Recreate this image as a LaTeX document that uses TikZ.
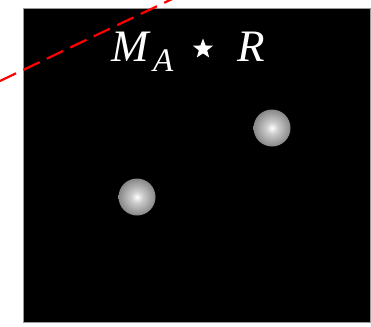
\documentclass[tikz,border=0pt]{standalone}
\usepackage{fontspec}
\setmainfont{Liberation Serif}
\usetikzlibrary{shapes.geometric}
\pgfdeclareradialshading{ballshade}{\pgfpoint{0bp}{0bp}}{color(0bp)=(white); color(8bp)=(black!20); color(30bp)=(black!55); color(50bp)=(black!74)}
\begin{document}
\begin{tikzpicture}[x=1pt,y=-1pt,
  ball/.style={circle,inner sep=0pt,minimum size=37pt,shading=ballshade},
  lbl/.style={text=white,inner sep=0pt,font=\itshape}]
\useasboundingbox (0,0) rectangle (371,326);
\clip (0,0) rectangle (371,326);
\node[draw=black!40,line width=0.8pt,fill=black,minimum width=347pt,minimum height=314pt,inner sep=0pt,anchor=north west] (frame) at (23,8) {};
\node[ball] (b1) at (272,128) {};
\node[ball] (b2) at (137,197) {};
\coordinate (l1) at (-20,90.5);
\coordinate (l2) at (190,-9.5);
\draw[red,line width=2.2pt,dash pattern=on 18pt off 8pt,dash phase=4pt] (l1) -- (l2);
\node[lbl,anchor=base west,font=\itshape\fontsize{45}{45}\selectfont] (m) at (111,62) {M};
\node[lbl,anchor=base west,font=\itshape\fontsize{33}{33}\selectfont] (a) at (153,72) {A};
\node[star,star points=5,star point ratio=2.4,fill=white,inner sep=0pt,minimum size=21pt] (s) at (203,49) {};
\node[lbl,anchor=base west,font=\itshape\fontsize{45}{45}\selectfont] (r) at (237,62) {R};
\end{tikzpicture}
\end{document}
